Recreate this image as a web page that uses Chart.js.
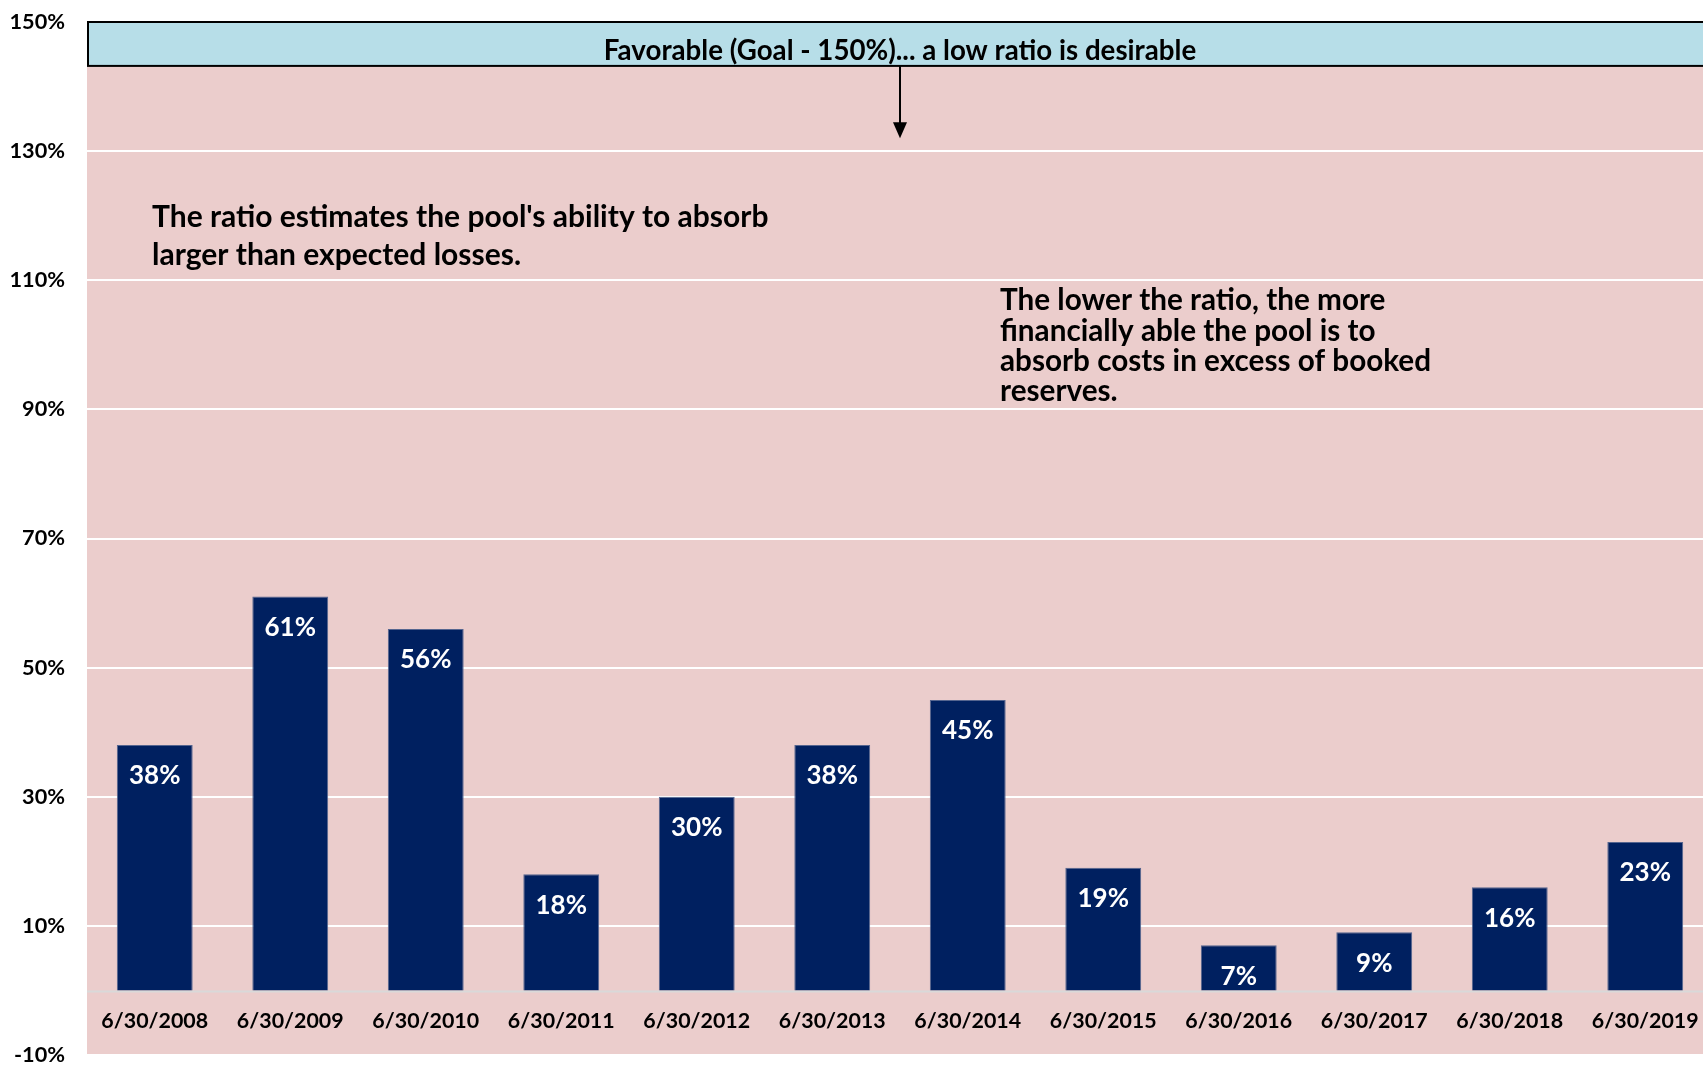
<!DOCTYPE html>
<html>
<head>
<meta charset="utf-8">
<script src="https://cdn.jsdelivr.net/npm/chart.js@4/dist/chart.umd.min.js"></script>
<style>
  html, body { margin: 0; padding: 0; background: #ffffff; overflow: hidden; }
  #wrap { width: 1713px; height: 1066px; }
</style>
</head>
<body>
<div id="wrap"><canvas id="c" width="1713" height="1066"></canvas></div>
<script>
// Reserve ratio by fiscal year end
const categories = ['6/30/2008', '6/30/2009', '6/30/2010', '6/30/2011', '6/30/2012', '6/30/2013',
                    '6/30/2014', '6/30/2015', '6/30/2016', '6/30/2017', '6/30/2018', '6/30/2019'];
const ratioValues = [38, 61, 56, 18, 30, 38, 45, 19, 7, 9, 16, 23];
const yTicks = { min: -10, max: 150, step: 20 };

const bannerText = 'Favorable (Goal - 150%)... a low ratio is desirable';
const noteLeft = ["The ratio estimates the pool's ability to absorb", 'larger than expected losses.'];
const noteRight = ['The lower the ratio, the more', 'financially able the pool is to',
                   'absorb costs in excess of booked', 'reserves.'];

const FONT = 'Lato, "Open Sans", sans-serif';
const PINK = '#ebcdcc';
const NAVY = '#002060';

// Background, zero line, banner, notes, in-bar values and category labels
const decorations = {
  id: 'decorations',
  beforeDraw(chart) {
    const { ctx, chartArea: a } = chart;
    ctx.save();
    ctx.fillStyle = PINK;
    ctx.fillRect(a.left, a.top, a.right - a.left, a.bottom - a.top);
    ctx.restore();
  },
  beforeDatasetsDraw(chart) {
    const { ctx, chartArea: a, scales: { y } } = chart;
    const y0 = y.getPixelForValue(0);
    ctx.save();
    ctx.strokeStyle = '#d9d9d9';
    ctx.lineWidth = 2;
    ctx.beginPath();
    ctx.moveTo(a.left, y0 + 1);
    ctx.lineTo(a.right, y0 + 1);
    ctx.stroke();
    ctx.restore();
  },
  afterDatasetsDraw(chart) {
    const { ctx, chartArea: a, scales: { x, y } } = chart;
    ctx.save();

    // values inside the bars
    const meta = chart.getDatasetMeta(0);
    ctx.fillStyle = '#ffffff';
    ctx.font = 'bold 26px ' + FONT;
    ctx.textAlign = 'center';
    ctx.textBaseline = 'middle';
    meta.data.forEach((bar, i) => {
      ctx.fillText(ratioValues[i] + '%', bar.x, bar.y + 31);
    });

    // category labels between the zero line and the bottom of the plot
    ctx.fillStyle = '#000000';
    ctx.font = 'bold 21.4px ' + FONT;
    const yl = y.getPixelForValue(-4.8);
    categories.forEach((c, i) => ctx.fillText(c, x.getPixelForValue(i), yl));

    // banner across the top of the plot
    const bTop = y.getPixelForValue(150);
    const bBot = y.getPixelForValue(143.2);
    ctx.fillStyle = '#b7dee8';
    ctx.fillRect(a.left, bTop, a.right - a.left, bBot - bTop);
    ctx.strokeStyle = '#000000';
    ctx.lineWidth = 2;
    ctx.strokeRect(a.left + 1, bTop, a.right - a.left + 4, bBot - bTop);
    const cx = (a.left + a.right) / 2;
    ctx.fillStyle = '#000000';
    ctx.font = 'bold 27.7px ' + FONT;
    ctx.fillText(bannerText, cx, bTop + 29);

    // arrow pointing down from the banner
    const tip = y.getPixelForValue(132);
    ctx.lineWidth = 2;
    ctx.beginPath();
    ctx.moveTo(cx, bBot);
    ctx.lineTo(cx, tip - 14);
    ctx.stroke();
    ctx.beginPath();
    ctx.moveTo(cx - 7, tip - 16);
    ctx.lineTo(cx + 7, tip - 16);
    ctx.lineTo(cx, tip);
    ctx.closePath();
    ctx.fill();

    // explanatory notes
    ctx.textAlign = 'left';
    ctx.font = 'bold 30px ' + FONT;
    noteLeft.forEach((t, i) => ctx.fillText(t, a.left + 65, y.getPixelForValue(119.7) + i * 38));
    ctx.font = 'bold 29.7px ' + FONT;
    noteRight.forEach((t, i) => ctx.fillText(t, a.left + 913, y.getPixelForValue(106.8) + i * 30.3));

    ctx.restore();
  }
};

new Chart(document.getElementById('c'), {
  type: 'bar',
  data: {
    labels: categories,
    datasets: [{
      data: ratioValues,
      backgroundColor: NAVY,
      borderColor: '#55658f',
      borderWidth: { top: 1, left: 1, right: 1, bottom: 0 },
      barPercentage: 0.56,
      categoryPercentage: 1.0
    }]
  },
  options: {
    responsive: false,
    animation: false,
    devicePixelRatio: 1,
    layout: { padding: { top: 22, bottom: 11, left: 0, right: 0 } },
    plugins: { legend: { display: false }, tooltip: { enabled: false } },
    scales: {
      x: { display: false },
      y: {
        min: yTicks.min,
        max: yTicks.max,
        afterFit(scale) {
          scale.width = 87;
          scale.paddingTop = 8;
          scale.paddingBottom = 8;
        },
        border: { display: false },
        grid: { color: '#ffffff', lineWidth: 2, drawTicks: false },
        ticks: {
          stepSize: yTicks.step,
          padding: 22,
          color: '#000000',
          font: { family: FONT, size: 21.7, weight: 'bold', lineHeight: 1 },
          callback: v => v + '%'
        }
      }
    }
  },
  plugins: [decorations]
});
</script>
</body>
</html>
